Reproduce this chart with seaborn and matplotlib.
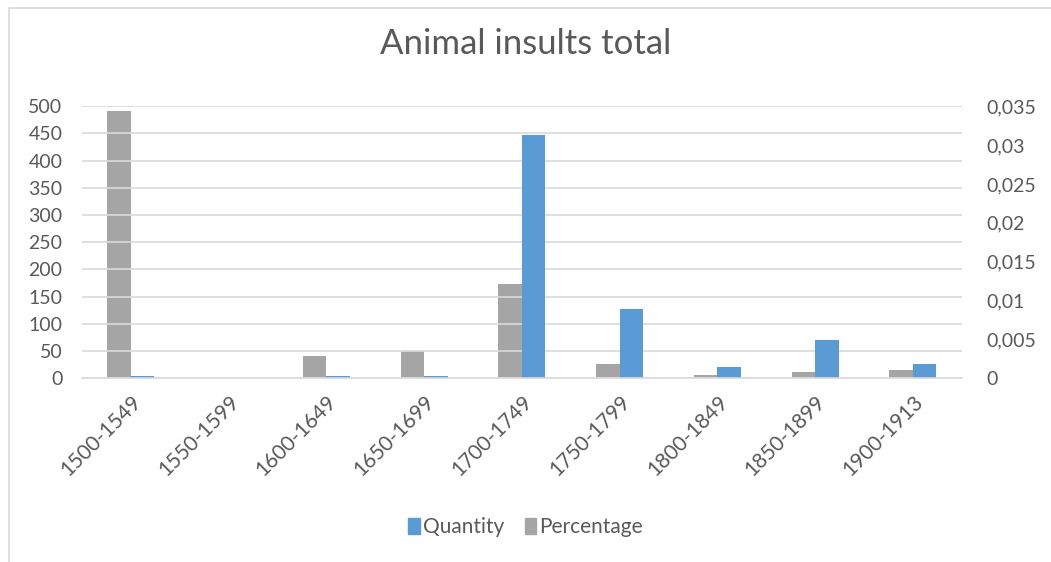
import numpy as np
import pandas as pd
import seaborn as sns
import matplotlib.pyplot as plt
from matplotlib.ticker import FuncFormatter, MultipleLocator
from matplotlib.patches import Rectangle

periods = ['1500-1549', '1550-1599', '1600-1649', '1650-1699', '1700-1749',
           '1750-1799', '1800-1849', '1850-1899', '1900-1913']
quantity = [5, 0, 5, 5, 447, 128, 21, 70, 26]
percentage = [0.0344, 0, 0.0028, 0.0035, 0.0121, 0.0018, 0.0004, 0.0008, 0.0011]

BLUE = '#5b9bd5'
GRAY = '#a5a5a5'
TEXT = '#595959'
GRID = '#d9d9d9'

sns.set_theme(style='white')
plt.rcParams['font.family'] = ['Lato', 'DejaVu Sans']

# long tables: each axis draws its own series, the other slot stays empty (0)
q_df = pd.DataFrame({'period': periods * 2,
                     'series': ['Percentage'] * 9 + ['Quantity'] * 9,
                     'value': [0] * 9 + quantity})
p_df = pd.DataFrame({'period': periods * 2,
                     'series': ['Percentage'] * 9 + ['Quantity'] * 9,
                     'value': percentage + [0] * 9})
hue_order = ['Percentage', 'Quantity']
palette = {'Quantity': BLUE, 'Percentage': GRAY}

fig = plt.figure(figsize=(10.51, 5.62), dpi=100)
ax = fig.add_axes([0.078, 0.327, 0.837, 0.484])
ax2 = ax.twinx()

sns.barplot(data=q_df, x='period', y='value', hue='series', hue_order=hue_order,
            palette=palette, width=0.48, gap=0, ax=ax, legend=False,
            errorbar=None, linewidth=0, saturation=1)
sns.barplot(data=p_df, x='period', y='value', hue='series', hue_order=hue_order,
            palette=palette, width=0.48, gap=0, ax=ax2, legend=False,
            errorbar=None, linewidth=0, saturation=1)

ax.set_ylim(0, 500)
ax2.set_ylim(0, 0.035)
ax.set_xlim(-0.5, 8.5)
ax.yaxis.set_major_locator(MultipleLocator(50))
ax2.yaxis.set_major_locator(MultipleLocator(0.005))
ax2.yaxis.set_major_formatter(FuncFormatter(
    lambda v, p: '0' if abs(v) < 1e-12 else f'{v:.3f}'.rstrip('0').replace('.', ',')))

ax.grid(axis='y', color=GRID, linewidth=1.2)
ax.set_axisbelow(True)
ax2.grid(False)
ax.set_zorder(ax2.get_zorder() + 1)
ax.patch.set_visible(False)

for a in (ax, ax2):
    for s in a.spines.values():
        s.set_visible(False)
    a.set_xlabel('')
    a.set_ylabel('')
    a.tick_params(axis='both', length=0, colors=TEXT, labelsize=14)
ax.spines['bottom'].set_visible(True)
ax.spines['bottom'].set_color(GRID)
ax.spines['bottom'].set_linewidth(1.2)
ax.tick_params(axis='y', pad=14)
ax2.tick_params(axis='y', pad=18)

ax.set_xticks(range(len(periods)))
ax.set_xticklabels(periods, rotation=45, ha='right', rotation_mode='anchor',
                   fontsize=15, color=TEXT)
ax.tick_params(axis='x', pad=10)

fig.suptitle('Animal insults total', x=0.5, y=0.95, fontsize=25, color=TEXT)

handles = [Rectangle((0, 0), 1, 1, color=BLUE), Rectangle((0, 0), 1, 1, color=GRAY)]
fig.legend(handles, ['Quantity', 'Percentage'], loc='center', ncol=2,
           bbox_to_anchor=(0.5, 0.062), frameon=False, fontsize=15,
           labelcolor=TEXT, handlelength=0.55, handleheight=0.85,
           handletextpad=0.15, columnspacing=1.0)

# chart area border (only top/left edges fall inside the image)
fig.patches.append(Rectangle((9 / 1051, -0.1), 1.2, 1.1 - 8 / 562,
                             transform=fig.transFigure, fill=False,
                             edgecolor=GRID, linewidth=1.2))

fig.savefig('out.png', dpi=100, facecolor='white')
